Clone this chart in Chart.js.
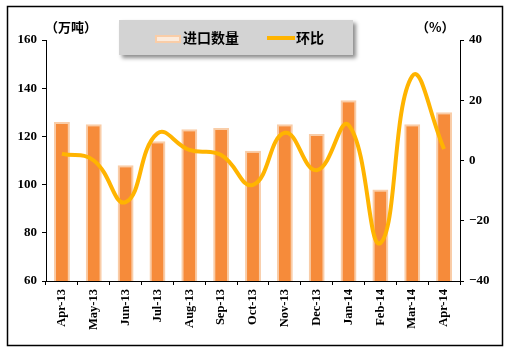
<!DOCTYPE html>
<html><head><meta charset="utf-8">
<script src="https://cdn.jsdelivr.net/npm/chart.js@4.4.0/dist/chart.umd.min.js"></script>
<style>html,body{margin:0;padding:0;background:#fff;}#wrap{width:510px;height:351px;}</style>
</head><body><div id="wrap"><canvas id="c" width="510" height="351"></canvas></div>
<script>
const categories = ['Apr-13','May-13','Jun-13','Jul-13','Aug-13','Sep-13','Oct-13','Nov-13','Dec-13','Jan-14','Feb-14','Mar-14','Apr-14'];
const importVolume = [126, 125, 108, 118, 123, 123.5, 114, 125, 121, 135, 98, 125, 130];
const momChange = [2.2, 0, -13.8, 9, 3.5, 1.8, -8.1, 9.2, -3.2, 11.8, -27.4, 28, 3.8];
const leftTicks = [60, 80, 100, 120, 140, 160];
const rightTicks = [-40, -20, 0, 20, 40];

const tickFont = {family: "'Liberation Serif', serif", weight: 'bold', size: 13};
const cjk = "'Noto Sans CJK SC', sans-serif";

const decor = {
  id: 'decor',
  beforeDraw(chart) {
    const ctx = chart.ctx;
    ctx.save();
    ctx.fillStyle = '#fff';
    ctx.fillRect(0, 0, chart.width, chart.height);
    ctx.strokeStyle = '#000';
    ctx.lineWidth = 1.5;
    ctx.strokeRect(7.5, 6.5, 495, 339);
    ctx.restore();
  },
  afterDraw(chart) {
    const ctx = chart.ctx;
    ctx.save();
    ctx.shadowColor = 'rgba(0,0,0,0.45)';
    ctx.shadowOffsetX = 3; ctx.shadowOffsetY = 3; ctx.shadowBlur = 4;
    ctx.fillStyle = '#D3D3D3';
    ctx.fillRect(119, 20, 234, 35);
    ctx.shadowColor = 'transparent';
    ctx.fillStyle = '#F9CDA8';
    ctx.fillRect(155, 35, 26, 8);
    ctx.fillStyle = '#FCEBDC';
    ctx.fillRect(157, 37, 22, 4);
    ctx.fillStyle = '#000';
    ctx.font = "bold 14px " + cjk;
    ctx.textBaseline = 'middle';
    ctx.textAlign = 'left';
    ctx.fillText('进口数量', 183, 38);
    ctx.strokeStyle = '#FFB400';
    ctx.lineWidth = 4;
    ctx.beginPath(); ctx.moveTo(267, 38); ctx.lineTo(295, 38); ctx.stroke();
    ctx.fillText('环比', 296, 38);
    ctx.font = "bold 13px " + cjk;
    ctx.fillText('（万吨）', 45, 27);
    ctx.fillText('（%）', 416, 27);
    ctx.restore();
  }
};

new Chart(document.getElementById('c'), {
  data: {
    labels: categories,
    datasets: [
      {
        type: 'line', label: '环比', data: momChange, yAxisID: 'y1',
        borderColor: '#FFB400', borderWidth: 4, pointRadius: 0, tension: 0.45,
        fill: false, order: 0
      },
      {
        type: 'bar', label: '进口数量', data: importVolume, yAxisID: 'y',
        backgroundColor: '#F68B3A', borderColor: '#F9CDA8', borderWidth: 2,
        borderSkipped: false, categoryPercentage: 1, barPercentage: 0.5, order: 1
      }
    ]
  },
  options: {
    responsive: false, animation: false,
    layout: {padding: {left: 0, right: 0, top: 40, bottom: 0}},
    plugins: {legend: {display: false}, tooltip: {enabled: false}},
    scales: {
      x: {
        offset: true,
        grid: {offset: true, drawOnChartArea: false, color: '#000', tickLength: 4, tickColor: '#000'},
        border: {color: '#000', width: 1},
        ticks: {font: {family: "'Liberation Serif', serif", weight: 'bold', size: 12.5}, color: '#000', maxRotation: 90, minRotation: 90, padding: 4},
        afterFit(s) { s.height = 70; }
      },
      y: {
        position: 'left', min: 60, max: 160,
        afterBuildTicks(s) { s.ticks = leftTicks.map(v => ({value: v})); },
        grid: {drawOnChartArea: false, tickLength: 4, tickColor: '#000'},
        border: {color: '#000', width: 1},
        ticks: {font: tickFont, color: '#000', padding: 5},
        afterFit(s) { s.width = 46; }
      },
      y1: {
        position: 'right', min: -40, max: 40,
        afterBuildTicks(s) { s.ticks = rightTicks.map(v => ({value: v})); },
        grid: {drawOnChartArea: false, tickLength: 4, tickColor: '#000'},
        border: {color: '#000', width: 1},
        ticks: {font: tickFont, color: '#000', padding: 5, callback: v => (v < 0 ? '\u2212' + Math.abs(v) : '' + v)},
        afterFit(s) { s.width = 50; }
      }
    }
  },
  plugins: [decor]
});
</script></body></html>
